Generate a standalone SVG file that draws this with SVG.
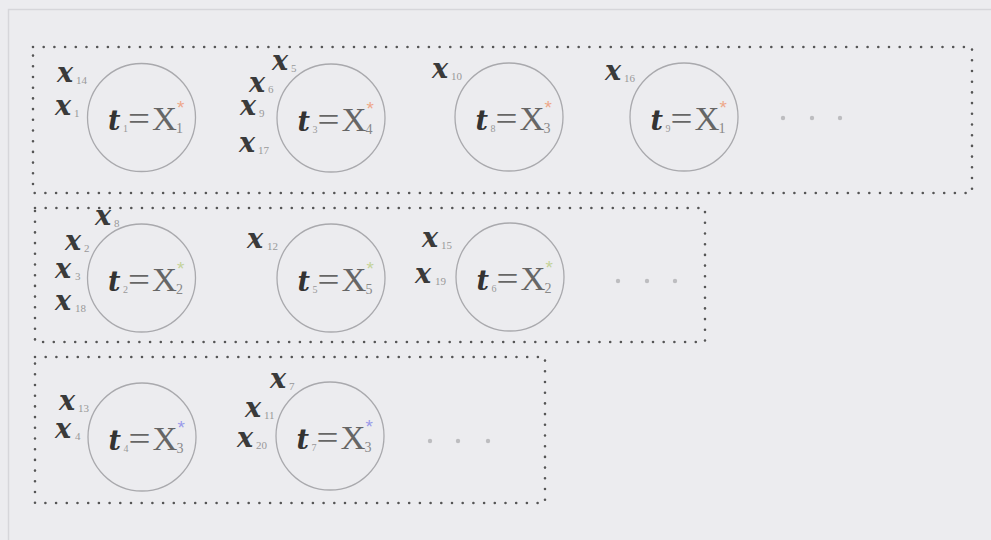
<svg xmlns="http://www.w3.org/2000/svg" width="991" height="540" viewBox="0 0 991 540">
<style>
.bg{fill:#ececef}
.frame{fill:none;stroke:#d6d6da;stroke-width:1.5}
.box{fill:none;stroke:#555;stroke-width:2.6;stroke-linecap:round;stroke-dasharray:0 10.7}
.node{fill:none;stroke:#a9a9ad;stroke-width:1.3}
.x{font-family:"DejaVu Serif",serif;font-weight:bold;font-style:italic;font-size:27px;fill:#3a3a3a}
.xs{font-family:"Liberation Serif",serif;font-size:11px;fill:#999}
.t{font-family:"DejaVu Serif",serif;font-weight:bold;font-style:italic;font-size:27px;fill:#333}
.ts{font-family:"Liberation Serif",serif;font-size:10px;fill:#999}
.eq{font-family:"Liberation Serif",serif;font-size:34px;fill:#666}
.Xs{font-family:"Liberation Serif",serif;font-size:14px;fill:#888}
.st1{font-family:"Liberation Sans",sans-serif;font-size:19px;fill:#eea88a}
.st2{font-family:"Liberation Sans",sans-serif;font-size:19px;fill:#c5d39a}
.st3{font-family:"Liberation Sans",sans-serif;font-size:19px;fill:#9a9aea}
.dot{fill:#bdbdc0}
</style>
<rect class="bg" x="0" y="0" width="991" height="540"/>
<path class="frame" d="M8.5,540 V9.5 H991"/>
<g id="boxes">
<rect class="box" x="33" y="47" width="939" height="146"/>
<rect class="box" x="35" y="208" width="670" height="134"/>
<rect class="box" x="35" y="357" width="510" height="146"/>
</g>
<g id="connectors"></g>

<g id="node-t1">
<circle class="node" cx="141.5" cy="117.5" r="54"/>
<text class="t" x="108" y="130">t</text><text class="ts" x="123" y="132">1</text>
<text class="eq" x="128" y="130" textLength="22" lengthAdjust="spacingAndGlyphs">=</text>
<text class="eq" x="152" y="130" textLength="25" lengthAdjust="spacingAndGlyphs">X</text>
<text class="Xs" x="176" y="133">1</text><text class="st1" x="177" y="114">*</text>
<text class="x" x="57" y="82">x</text><text class="xs" x="76" y="84">14</text>
<text class="x" x="55" y="115">x</text><text class="xs" x="74" y="117">1</text>
</g>

<g id="node-t3">
<circle class="node" cx="331" cy="118" r="54"/>
<text class="t" x="297.5" y="130.5">t</text><text class="ts" x="312.5" y="132.5">3</text>
<text class="eq" x="317.5" y="130.5" textLength="22" lengthAdjust="spacingAndGlyphs">=</text>
<text class="eq" x="341.5" y="130.5" textLength="25" lengthAdjust="spacingAndGlyphs">X</text>
<text class="Xs" x="365.5" y="133.5">4</text><text class="st1" x="366.5" y="114.5">*</text>
<text class="x" x="272" y="70">x</text><text class="xs" x="291" y="72">5</text>
<text class="x" x="249" y="92">x</text><text class="xs" x="268" y="93">6</text>
<text class="x" x="240" y="115">x</text><text class="xs" x="259" y="117">9</text>
<text class="x" x="239" y="152">x</text><text class="xs" x="258" y="154">17</text>
</g>

<g id="node-t8">
<circle class="node" cx="509" cy="117" r="54"/>
<text class="t" x="475.5" y="129.5">t</text><text class="ts" x="490.5" y="131.5">8</text>
<text class="eq" x="495.5" y="129.5" textLength="22" lengthAdjust="spacingAndGlyphs">=</text>
<text class="eq" x="519.5" y="129.5" textLength="25" lengthAdjust="spacingAndGlyphs">X</text>
<text class="Xs" x="543.5" y="132.5">3</text><text class="st1" x="544.5" y="113.5">*</text>
<text class="x" x="432" y="78">x</text><text class="xs" x="451" y="80">10</text>
</g>

<g id="node-t9">
<circle class="node" cx="684" cy="117" r="54"/>
<text class="t" x="650.5" y="129.5">t</text><text class="ts" x="665.5" y="131.5">9</text>
<text class="eq" x="670.5" y="129.5" textLength="22" lengthAdjust="spacingAndGlyphs">=</text>
<text class="eq" x="694.5" y="129.5" textLength="25" lengthAdjust="spacingAndGlyphs">X</text>
<text class="Xs" x="718.5" y="132.5">1</text><text class="st1" x="719.5" y="113.5">*</text>
<text class="x" x="605" y="80">x</text><text class="xs" x="624" y="82">16</text>
</g>
<g id="ellipsis-1">
<circle class="dot" cx="783" cy="118" r="2.2"/><circle class="dot" cx="812" cy="118" r="2.2"/><circle class="dot" cx="840" cy="118" r="2.2"/>
</g>

<g id="node-t2">
<circle class="node" cx="141.5" cy="278" r="54"/>
<text class="t" x="108" y="290.5">t</text><text class="ts" x="123" y="292.5">2</text>
<text class="eq" x="128" y="290.5" textLength="22" lengthAdjust="spacingAndGlyphs">=</text>
<text class="eq" x="152" y="290.5" textLength="25" lengthAdjust="spacingAndGlyphs">X</text>
<text class="Xs" x="176" y="293.5">2</text><text class="st2" x="177" y="274.5">*</text>
<text class="x" x="95" y="225">x</text><text class="xs" x="114" y="227">8</text>
<text class="x" x="65" y="250">x</text><text class="xs" x="84" y="252">2</text>
<text class="x" x="55" y="278">x</text><text class="xs" x="75" y="280">3</text>
<text class="x" x="55" y="310">x</text><text class="xs" x="75" y="312">18</text>
</g>

<g id="node-t5">
<circle class="node" cx="331" cy="278" r="54"/>
<text class="t" x="297.5" y="290.5">t</text><text class="ts" x="312.5" y="292.5">5</text>
<text class="eq" x="317.5" y="290.5" textLength="22" lengthAdjust="spacingAndGlyphs">=</text>
<text class="eq" x="341.5" y="290.5" textLength="25" lengthAdjust="spacingAndGlyphs">X</text>
<text class="Xs" x="365.5" y="293.5">5</text><text class="st2" x="366.5" y="274.5">*</text>
<text class="x" x="247" y="248">x</text><text class="xs" x="267" y="250">12</text>
</g>

<g id="node-t6">
<circle class="node" cx="510" cy="277" r="54"/>
<text class="t" x="476.5" y="289.5">t</text><text class="ts" x="491.5" y="291.5">6</text>
<text class="eq" x="496.5" y="289.5" textLength="22" lengthAdjust="spacingAndGlyphs">=</text>
<text class="eq" x="520.5" y="289.5" textLength="25" lengthAdjust="spacingAndGlyphs">X</text>
<text class="Xs" x="544.5" y="292.5">2</text><text class="st2" x="545.5" y="273.5">*</text>
<text class="x" x="422" y="247">x</text><text class="xs" x="441" y="249">15</text>
<text class="x" x="415" y="283">x</text><text class="xs" x="435" y="285">19</text>
</g>
<g id="ellipsis-2">
<circle class="dot" cx="618" cy="281" r="2.2"/><circle class="dot" cx="647" cy="281" r="2.2"/><circle class="dot" cx="675" cy="281" r="2.2"/>
</g>

<g id="node-t4">
<circle class="node" cx="142" cy="437" r="54"/>
<text class="t" x="108.5" y="449.5">t</text><text class="ts" x="123.5" y="451.5">4</text>
<text class="eq" x="128.5" y="449.5" textLength="22" lengthAdjust="spacingAndGlyphs">=</text>
<text class="eq" x="152.5" y="449.5" textLength="25" lengthAdjust="spacingAndGlyphs">X</text>
<text class="Xs" x="176.5" y="452.5">3</text><text class="st3" x="177.5" y="433.5">*</text>
<text class="x" x="59" y="410">x</text><text class="xs" x="78" y="412">13</text>
<text class="x" x="55" y="438">x</text><text class="xs" x="75" y="440">4</text>
</g>

<g id="node-t7">
<circle class="node" cx="330" cy="436" r="54"/>
<text class="t" x="296.5" y="448.5">t</text><text class="ts" x="311.5" y="450.5">7</text>
<text class="eq" x="316.5" y="448.5" textLength="22" lengthAdjust="spacingAndGlyphs">=</text>
<text class="eq" x="340.5" y="448.5" textLength="25" lengthAdjust="spacingAndGlyphs">X</text>
<text class="Xs" x="364.5" y="451.5">3</text><text class="st3" x="365.5" y="432.5">*</text>
<text class="x" x="270" y="388">x</text><text class="xs" x="289" y="390">7</text>
<text class="x" x="245" y="417">x</text><text class="xs" x="264" y="419">11</text>
<text class="x" x="237" y="447">x</text><text class="xs" x="256" y="449">20</text>
</g>
<g id="ellipsis-3">
<circle class="dot" cx="430" cy="441" r="2.2"/><circle class="dot" cx="458" cy="441" r="2.2"/><circle class="dot" cx="488" cy="441" r="2.2"/>
</g>
</svg>
